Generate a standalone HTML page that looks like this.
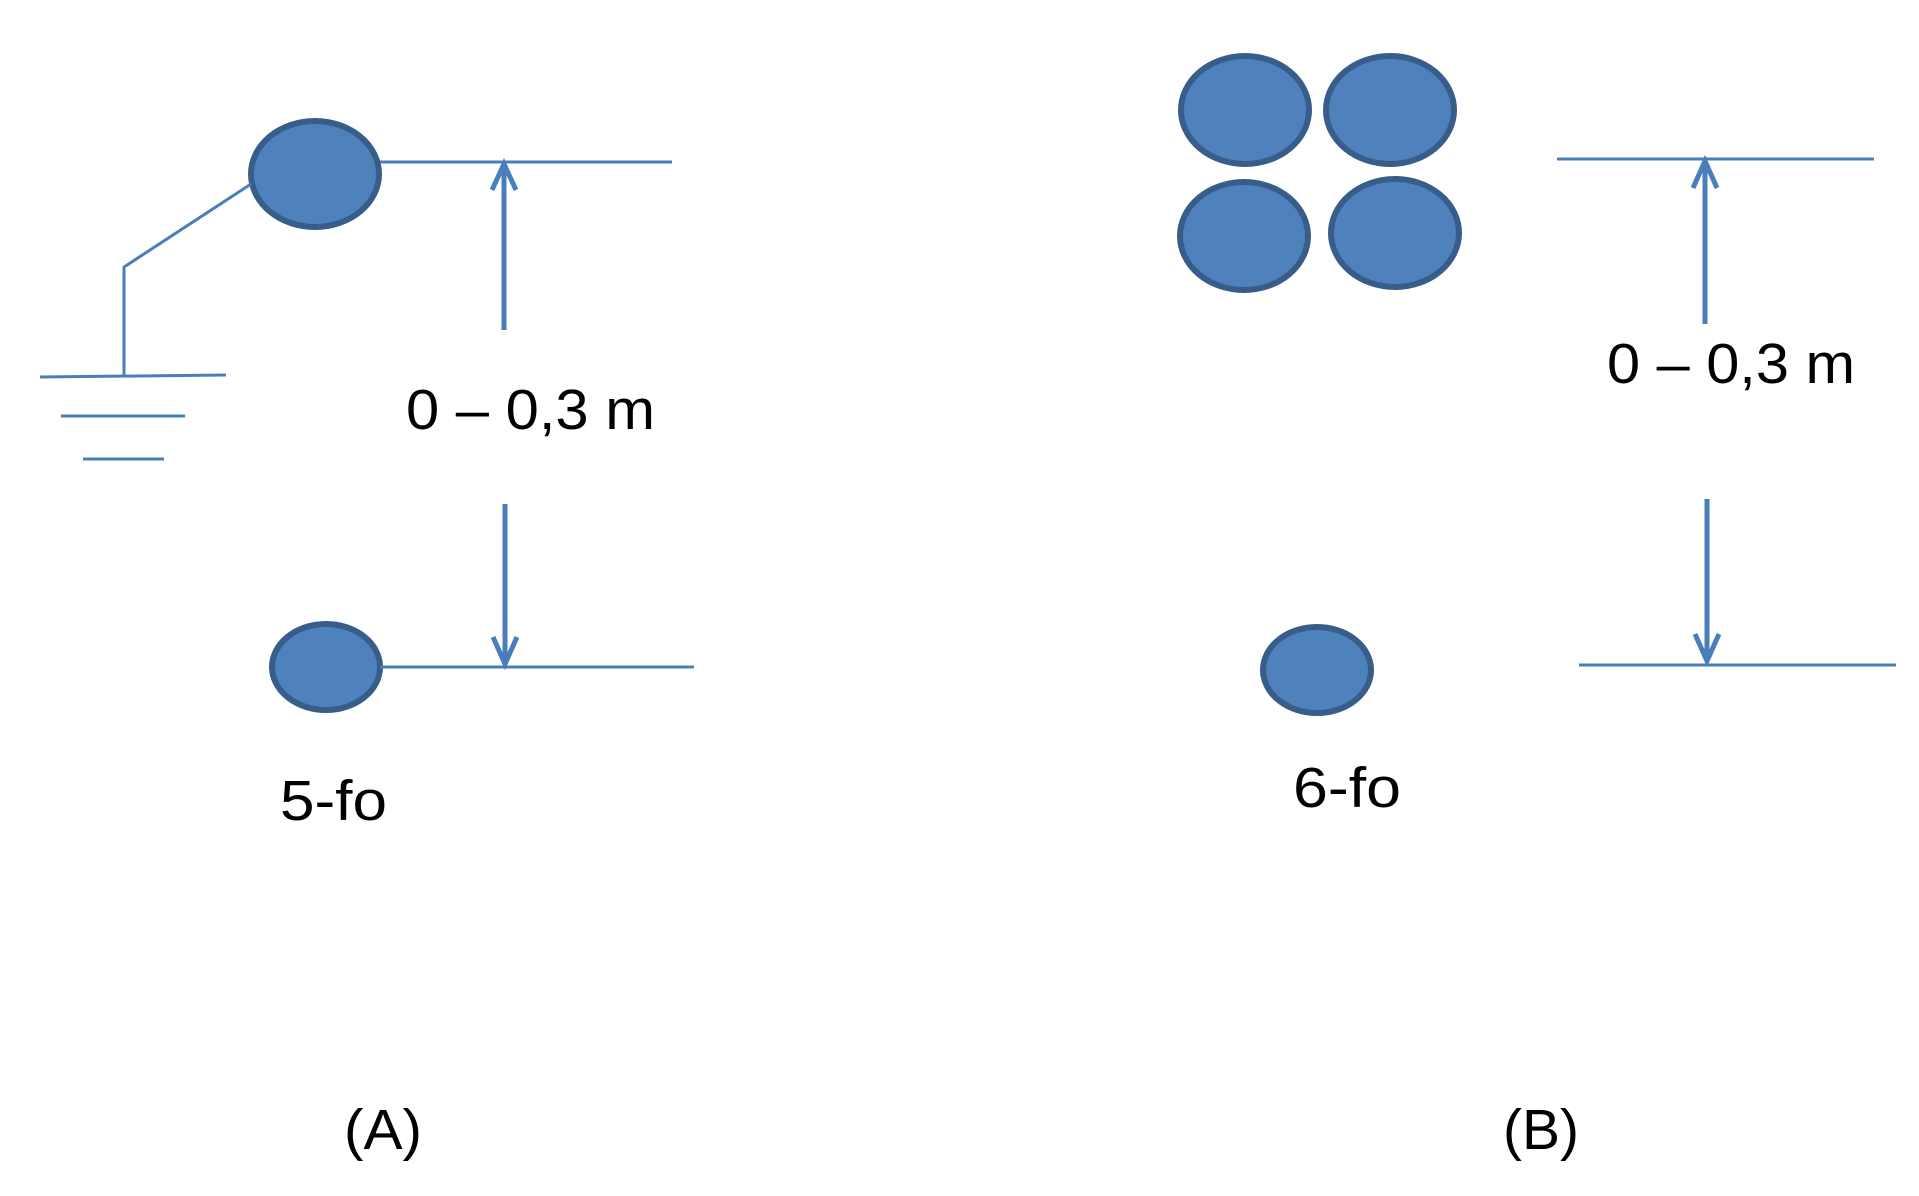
<!DOCTYPE html>
<html><head><meta charset="utf-8"><style>html,body{margin:0;padding:0;background:#fff}svg{display:block}</style></head>
<body>
<svg width="1919" height="1196" viewBox="0 0 1919 1196" xmlns="http://www.w3.org/2000/svg">
<g fill="#4f81bd" stroke="#385d8a" stroke-width="6">
<ellipse cx="315" cy="174" rx="64" ry="53"/>
<ellipse cx="326" cy="667" rx="54" ry="43"/>
<ellipse cx="1245" cy="110" rx="64" ry="54"/>
<ellipse cx="1390" cy="110" rx="64" ry="54"/>
<ellipse cx="1244" cy="236" rx="64" ry="54"/>
<ellipse cx="1395" cy="233" rx="64" ry="54"/>
<ellipse cx="1317" cy="670" rx="54" ry="43"/>
</g>
<g stroke="#4a7ebb" stroke-width="3" fill="none">
<line x1="380" y1="162" x2="672" y2="162"/>
<polyline points="251,184 124,267 124,376"/>
<line x1="40" y1="377" x2="226" y2="375"/>
<line x1="61" y1="416" x2="185" y2="416"/>
<line x1="83" y1="459" x2="164" y2="459"/>
<line x1="380" y1="667" x2="694" y2="667"/>
<line x1="1557" y1="159" x2="1874" y2="159"/>
<line x1="1579" y1="665" x2="1896" y2="665"/>
</g>
<g stroke="#4a7ebb" stroke-width="5" fill="none">
<line x1="504" y1="330" x2="504" y2="165"/>
<polyline points="492,190 504,164 516,190"/>
<line x1="505" y1="504" x2="505" y2="664"/>
<polyline points="493,637 505,664 517,637"/>
<line x1="1705" y1="324" x2="1705" y2="162"/>
<polyline points="1693,188 1705,161 1717,188"/>
<line x1="1707" y1="499" x2="1707" y2="660"/>
<polyline points="1695,634 1707,661 1719,634"/>
</g>
<g font-family="'Liberation Sans', sans-serif" font-size="57" fill="#000">
<text x="406" y="429" textLength="249" lengthAdjust="spacingAndGlyphs">0 – 0,3 m</text>
<text x="1607" y="383" textLength="248" lengthAdjust="spacingAndGlyphs">0 – 0,3 m</text>
<text x="280" y="820" textLength="107" lengthAdjust="spacingAndGlyphs">5-fo</text>
<text x="1293" y="807" textLength="108" lengthAdjust="spacingAndGlyphs">6-fo</text>
<text x="344" y="1149" textLength="78" lengthAdjust="spacingAndGlyphs">(A)</text>
<text x="1503" y="1149" textLength="76" lengthAdjust="spacingAndGlyphs">(B)</text>
</g>
</svg>
</body></html>
